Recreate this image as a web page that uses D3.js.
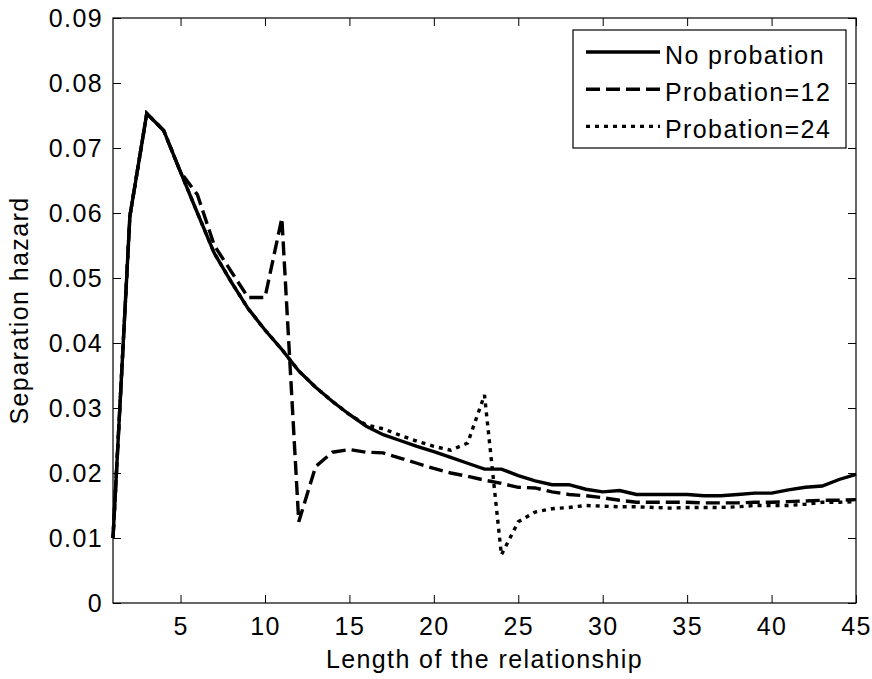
<!DOCTYPE html>
<meta charset="UTF-8">
<style>
body { margin: 0; background: #fff; }
text { font-family: "Liberation Sans", Arial, sans-serif; font-size: 25px; letter-spacing: 1.4px; fill: #000; }
.series { fill: none; stroke: #000; stroke-width: 3.4px; }
</style>
<body>
<script src="https://d3js.org/d3.v7.min.js"></script>
<script>
// months of the relationship
var months = d3.range(1, 46);

var noProbation = [
  0.0100, 0.0595, 0.0753, 0.0727, 0.0663, 0.0600, 0.0538, 0.0494, 0.0453, 0.0420,
  0.0390, 0.0357, 0.0332, 0.0310, 0.0290, 0.0272, 0.0259, 0.0250, 0.0241, 0.0233,
  0.0224, 0.0215, 0.0206, 0.0206, 0.0196, 0.0188, 0.0182, 0.0182, 0.0175, 0.0171,
  0.0173, 0.0167, 0.0167, 0.0167, 0.0167, 0.0165, 0.0165, 0.0167, 0.0169, 0.0169,
  0.0174, 0.0178, 0.0180, 0.0190, 0.0198
];

var probation12 = [
  0.0100, 0.0595, 0.0753, 0.0727, 0.0663, 0.0628, 0.0550, 0.0510, 0.0470, 0.0470,
  0.0592, 0.0125, 0.0210, 0.0232, 0.0236, 0.0232, 0.0231, 0.0223, 0.0215, 0.0207,
  0.0200, 0.0195, 0.0189, 0.0184, 0.0178, 0.0177, 0.0171, 0.0167, 0.0165, 0.0162,
  0.0158, 0.0155, 0.0155, 0.0155, 0.0155, 0.0154, 0.0154, 0.0154, 0.0155, 0.0155,
  0.0156, 0.0157, 0.0158, 0.0158, 0.0159
];

var probation24 = [
  0.0100, 0.0595, 0.0753, 0.0727, 0.0663, 0.0600, 0.0538, 0.0494, 0.0453, 0.0420,
  0.0390, 0.0357, 0.0332, 0.0310, 0.0290, 0.0274, 0.0268, 0.0258, 0.0249, 0.0241,
  0.0235, 0.0246, 0.0320, 0.0074, 0.0125, 0.0140, 0.0145, 0.0147, 0.0150, 0.0149,
  0.0148, 0.0148, 0.0147, 0.0146, 0.0147, 0.0147, 0.0147, 0.0148, 0.0150, 0.0150,
  0.0150, 0.0152, 0.0155, 0.0155, 0.0156
];

var seriesNames = ["No probation", "Probation=12", "Probation=24"];
var xTicks = [5, 10, 15, 20, 25, 30, 35, 40, 45];
var yTicks = [0, 0.01, 0.02, 0.03, 0.04, 0.05, 0.06, 0.07, 0.08, 0.09];

var margin = {top: 18, right: 16, bottom: 76, left: 113},
    width = 872 - margin.left - margin.right,
    height = 679 - margin.top - margin.bottom;

var x = d3.scaleLinear().domain([1, 45]).range([0, width]);
var y = d3.scaleLinear().domain([0, 0.09]).range([height, 0]);

var svg = d3.select("body").append("svg")
    .attr("width", 872)
    .attr("height", 679),
  g = svg.append("g")
    .attr("transform", "translate(" + margin.left + "," + margin.top + ")");

// inward ticks on all four sides, like a boxed matlab axes
g.append("g")
    .attr("transform", "translate(0," + height + ")")
    .call(d3.axisBottom(x).tickValues(xTicks).tickSize(-8).tickPadding(14).tickFormat(d3.format("d")))
    .call(a => a.select(".domain").remove());
g.append("g")
    .call(d3.axisTop(x).tickValues(xTicks).tickSize(-8).tickFormat(""))
    .call(a => a.select(".domain").remove());
g.append("g")
    .call(d3.axisLeft(y).tickValues(yTicks).tickSize(-8).tickPadding(10)
      .tickFormat(d => d === 0 ? "0" : d3.format(".2f")(d)))
    .call(a => a.select(".domain").remove());
g.append("g")
    .attr("transform", "translate(" + width + ",0)")
    .call(d3.axisRight(y).tickValues(yTicks).tickSize(-8).tickFormat(""))
    .call(a => a.select(".domain").remove());

g.selectAll(".tick line").attr("stroke", "#000").attr("stroke-width", 1);
g.selectAll(".tick text").style("font-size", "25px").style("font-family", null);

g.append("rect")
    .attr("width", width)
    .attr("height", height)
    .attr("fill", "none")
    .attr("stroke", "#000")
    .attr("stroke-width", 1.2);

// series lines
var line = d3.line()
    .x((d, i) => x(months[i]))
    .y(d => y(d));

var dashes = [null, "14,6", "4,5"];
[noProbation, probation12, probation24].forEach(function(vals, k) {
  g.append("path")
      .datum(vals)
      .attr("class", "series")
      .attr("stroke-dasharray", dashes[k])
      .attr("d", line);
});

// axis labels
svg.append("text")
    .attr("x", margin.left + width / 2)
    .attr("y", 668)
    .attr("text-anchor", "middle")
    .text("Length of the relationship");

svg.append("text")
    .attr("transform", "translate(28," + (margin.top + height / 2) + ") rotate(-90)")
    .attr("text-anchor", "middle")
    .text("Separation hazard");

// legend
var legend = svg.append("g").attr("transform", "translate(573,30)");
legend.append("rect")
    .attr("width", 273)
    .attr("height", 118)
    .attr("fill", "#fff")
    .attr("stroke", "#000")
    .attr("stroke-width", 1.2);

seriesNames.forEach(function(name, k) {
  var ly = 22 + k * 37.2;
  legend.append("line")
      .attr("x1", 13).attr("x2", 87)
      .attr("y1", ly).attr("y2", ly)
      .attr("stroke", "#000")
      .attr("stroke-width", 3.4)
      .attr("stroke-dasharray", dashes[k]);
  legend.append("text")
      .attr("x", 92)
      .attr("y", ly + 11.5)
      .text(name);
});
</script>
</body>
